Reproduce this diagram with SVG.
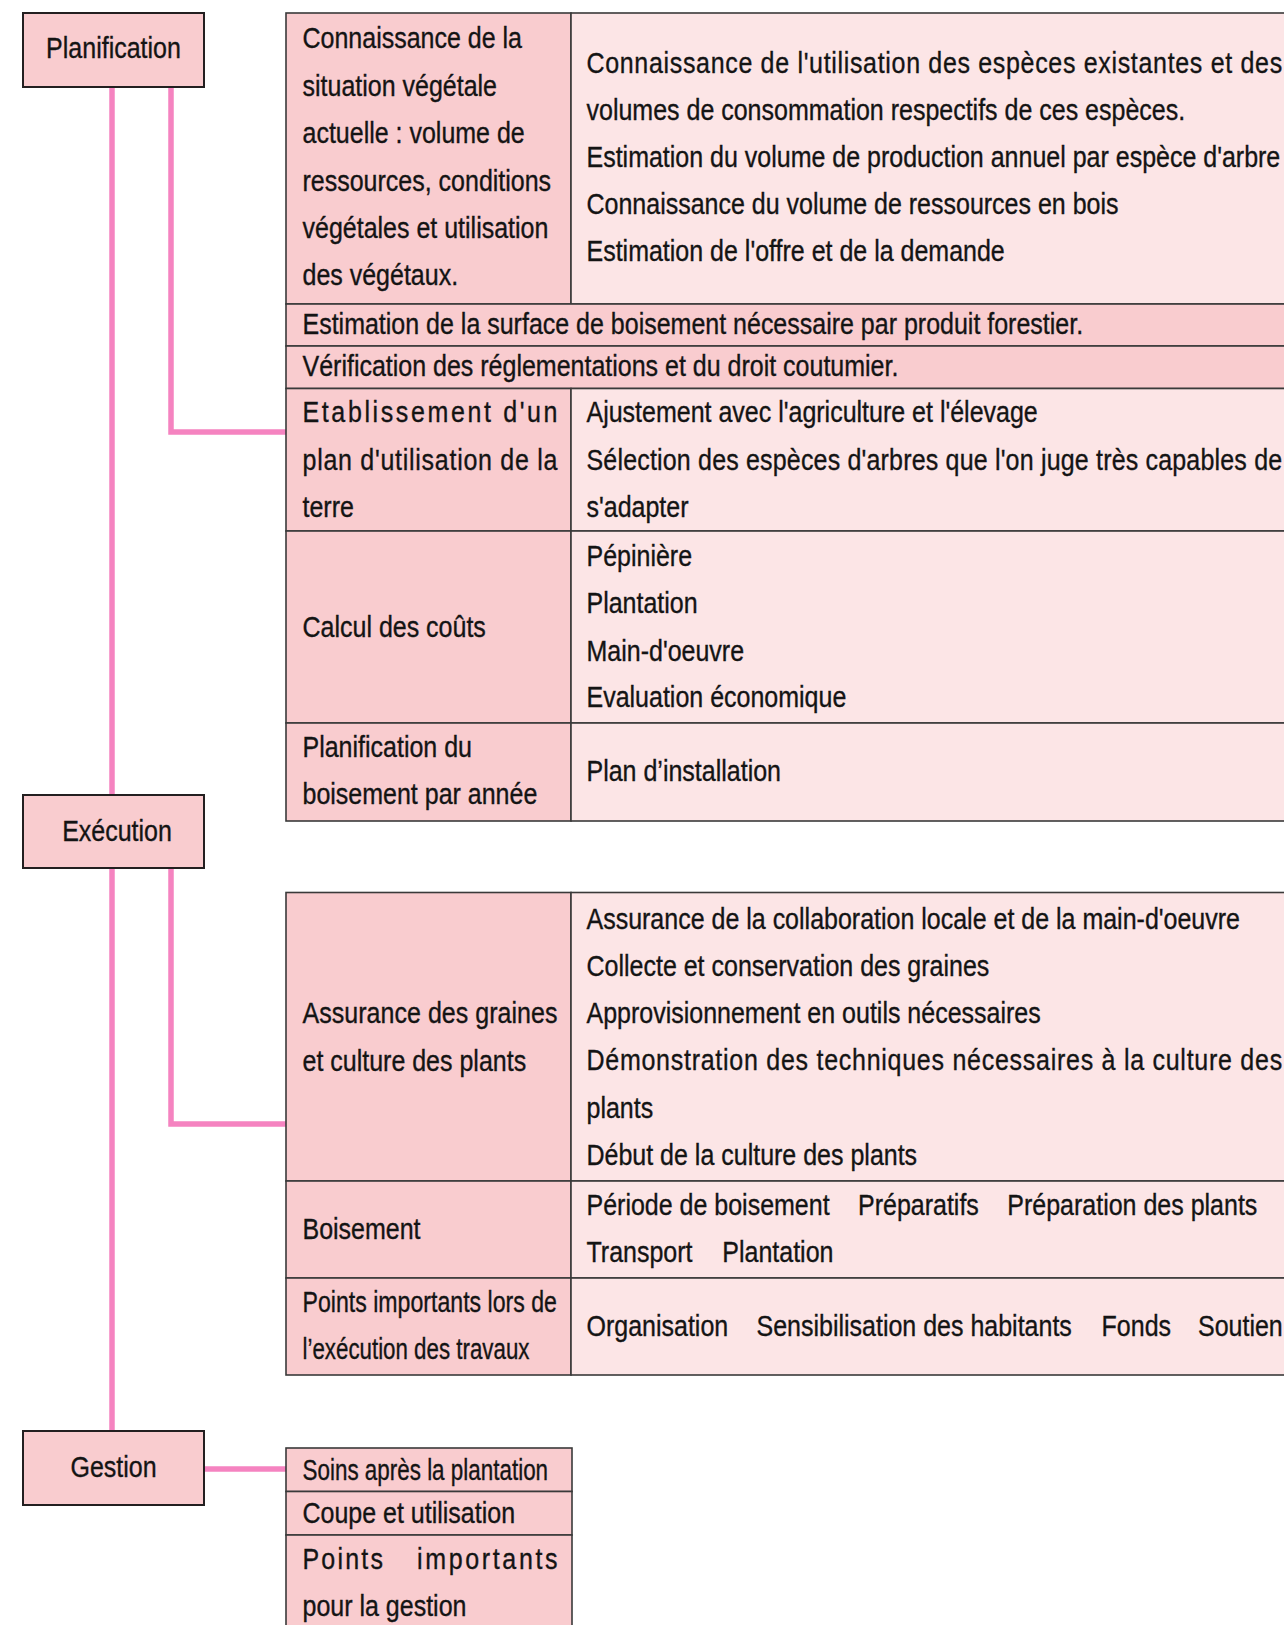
<svg xmlns="http://www.w3.org/2000/svg" width="1284" height="1625" viewBox="0 0 1284 1625">
<style>
.t{font-family:"Liberation Sans",Arial,sans-serif;font-size:29px;fill:#141414;stroke:#141414;stroke-width:0.35px}
.m{text-anchor:middle}
.box{fill:#F9CCCF;stroke:#231F20;stroke-width:2}
.dk{fill:#F9CCCF;stroke:#3a3a3a;stroke-width:1.6}
.lt{fill:#FCE5E6;stroke:#3a3a3a;stroke-width:1.6}
.con{fill:none;stroke:#F583C0;stroke-width:5.5}
</style>
<rect width="1284" height="1625" fill="#ffffff"/>
<g id="connectors">
<path class="con" d="M112,87 V795"/>
<path class="con" d="M112,868 V1431"/>
<path class="con" d="M171,87 V432 H286"/>
<path class="con" d="M171,868 V1124 H286"/>
<path class="con" d="M204,1469 H286"/>
</g>
<g id="planification">
<rect class="box" x="23" y="13" width="181" height="74"/>
<text class="t m" transform="translate(113.5,58.3) scale(0.862,1)">Planification</text>
</g>
<g id="execution">
<rect class="box" x="23" y="795" width="181" height="73"/>
<text class="t m" transform="translate(117,840.5) scale(0.862,1)">Exécution</text>
</g>
<g id="gestion">
<rect class="box" x="23" y="1431" width="181" height="74"/>
<text class="t m" transform="translate(113.5,1477) scale(0.862,1)">Gestion</text>
</g>
<g id="row-connaissance">
<rect class="dk" x="286" y="13" width="285" height="291"/>
<rect class="lt" x="571" y="13" width="740" height="291"/>
<text class="t" transform="translate(302.5,48.3) scale(0.862,1)">Connaissance de la</text>
<text class="t" transform="translate(302.5,95.7) scale(0.862,1)">situation végétale</text>
<text class="t" transform="translate(302.5,143.1) scale(0.862,1)">actuelle : volume de</text>
<text class="t" transform="translate(302.5,190.5) scale(0.862,1)">ressources, conditions</text>
<text class="t" transform="translate(302.5,237.9) scale(0.862,1)">végétales et utilisation</text>
<text class="t" transform="translate(302.5,285.3) scale(0.862,1)">des végétaux.</text>
<text class="t" transform="translate(586.5,72.5) scale(0.862,1)" textLength="807" lengthAdjust="spacing">Connaissance de l'utilisation des espèces existantes et des</text>
<text class="t" transform="translate(586.5,119.7) scale(0.862,1)">volumes de consommation respectifs de ces espèces.</text>
<text class="t" transform="translate(586.5,166.7) scale(0.862,1)">Estimation du volume de production annuel par espèce d'arbre</text>
<text class="t" transform="translate(586.5,213.8) scale(0.862,1)">Connaissance du volume de ressources en bois</text>
<text class="t" transform="translate(586.5,260.8) scale(0.862,1)">Estimation de l'offre et de la demande</text>
</g>
<g id="row-estimation">
<rect class="dk" x="286" y="304" width="1025" height="42"/>
<text class="t" transform="translate(302.5,334) scale(0.862,1)">Estimation de la surface de boisement nécessaire par produit forestier.</text>
</g>
<g id="row-verification">
<rect class="dk" x="286" y="346" width="1025" height="42.5"/>
<text class="t" transform="translate(302.5,375.7) scale(0.862,1)">Vérification des réglementations et du droit coutumier.</text>
</g>
<g id="row-etablissement">
<rect class="dk" x="286" y="388.5" width="285" height="142.5"/>
<rect class="lt" x="571" y="388.5" width="740" height="142.5"/>
<text class="t" transform="translate(302.5,422) scale(0.862,1)" textLength="295.8" lengthAdjust="spacing">Etablissement d'un</text>
<text class="t" transform="translate(302.5,469.5) scale(0.862,1)" textLength="295.8" lengthAdjust="spacing">plan d'utilisation de la</text>
<text class="t" transform="translate(302.5,516.5) scale(0.862,1)">terre</text>
<text class="t" transform="translate(586.5,422) scale(0.862,1)">Ajustement avec l'agriculture et l'élevage</text>
<text class="t" transform="translate(586.5,469.5) scale(0.862,1)" textLength="807" lengthAdjust="spacing">Sélection des espèces d'arbres que l'on juge très capables de</text>
<text class="t" transform="translate(586.5,516.5) scale(0.862,1)">s'adapter</text>
</g>
<g id="row-calcul">
<rect class="dk" x="286" y="531" width="285" height="192"/>
<rect class="lt" x="571" y="531" width="740" height="192"/>
<text class="t" transform="translate(302.5,637) scale(0.862,1)">Calcul des coûts</text>
<text class="t" transform="translate(586.5,565.5) scale(0.862,1)">Pépinière</text>
<text class="t" transform="translate(586.5,613) scale(0.862,1)">Plantation</text>
<text class="t" transform="translate(586.5,660.7) scale(0.862,1)">Main-d'oeuvre</text>
<text class="t" transform="translate(586.5,707) scale(0.862,1)">Evaluation économique</text>
</g>
<g id="row-planannee">
<rect class="dk" x="286" y="723" width="285" height="98"/>
<rect class="lt" x="571" y="723" width="740" height="98"/>
<text class="t" transform="translate(302.5,757.2) scale(0.862,1)">Planification du</text>
<text class="t" transform="translate(302.5,804) scale(0.862,1)">boisement par année</text>
<text class="t" transform="translate(586.5,781) scale(0.862,1)">Plan d’installation</text>
</g>
<g id="row-graines">
<rect class="dk" x="286" y="892.5" width="285" height="288.5"/>
<rect class="lt" x="571" y="892.5" width="740" height="288.5"/>
<text class="t" transform="translate(302.5,1023) scale(0.862,1)" textLength="295.8" lengthAdjust="spacing">Assurance des graines</text>
<text class="t" transform="translate(302.5,1070.5) scale(0.862,1)">et culture des plants</text>
<text class="t" transform="translate(586.5,928.6) scale(0.862,1)">Assurance de la collaboration locale et de la main-d'oeuvre</text>
<text class="t" transform="translate(586.5,975.8) scale(0.862,1)">Collecte et conservation des graines</text>
<text class="t" transform="translate(586.5,1023) scale(0.862,1)">Approvisionnement en outils nécessaires</text>
<text class="t" transform="translate(586.5,1070.4) scale(0.862,1)" textLength="807" lengthAdjust="spacing">Démonstration des techniques nécessaires à la culture des</text>
<text class="t" transform="translate(586.5,1117.7) scale(0.862,1)">plants</text>
<text class="t" transform="translate(586.5,1165) scale(0.862,1)">Début de la culture des plants</text>
</g>
<g id="row-boisement">
<rect class="dk" x="286" y="1181" width="285" height="97"/>
<rect class="lt" x="571" y="1181" width="740" height="97"/>
<text class="t" transform="translate(302.5,1238.5) scale(0.862,1)">Boisement</text>
<text class="t" transform="translate(586.5,1214.7) scale(0.862,1)">Période de boisement</text>
<text class="t" transform="translate(858,1214.7) scale(0.862,1)">Préparatifs</text>
<text class="t" transform="translate(1007.3,1214.7) scale(0.862,1)">Préparation des plants</text>
<text class="t" transform="translate(586.5,1262.4) scale(0.862,1)">Transport</text>
<text class="t" transform="translate(722.3,1262.4) scale(0.862,1)">Plantation</text>
</g>
<g id="row-points">
<rect class="dk" x="286" y="1278" width="285" height="97"/>
<rect class="lt" x="571" y="1278" width="740" height="97"/>
<text class="t" transform="translate(302.5,1312) scale(0.862,1)" textLength="295.2" lengthAdjust="spacingAndGlyphs">Points importants lors de</text>
<text class="t" transform="translate(302.5,1358.7) scale(0.862,1)" textLength="263.3" lengthAdjust="spacingAndGlyphs">l’exécution des travaux</text>
<text class="t" transform="translate(586.5,1336) scale(0.862,1)">Organisation</text>
<text class="t" transform="translate(756.5,1336) scale(0.862,1)">Sensibilisation des habitants</text>
<text class="t" transform="translate(1101.6,1336) scale(0.862,1)">Fonds</text>
<text class="t" transform="translate(1198,1336) scale(0.862,1)">Soutien</text>
</g>
<g id="gestion-soins">
<rect class="dk" x="286" y="1448" width="286" height="43.5"/>
<text class="t" transform="translate(302.5,1479.5) scale(0.862,1)" textLength="284.9" lengthAdjust="spacingAndGlyphs">Soins après la plantation</text>
</g>
<g id="gestion-coupe">
<rect class="dk" x="286" y="1491.5" width="286" height="43.5"/>
<text class="t" transform="translate(302.5,1523) scale(0.862,1)">Coupe et utilisation</text>
</g>
<g id="gestion-points">
<rect class="dk" x="286" y="1535" width="286" height="110"/>
<text class="t" transform="translate(302.5,1569) scale(0.862,1)" textLength="93.3" lengthAdjust="spacing">Points</text>
<text class="t" transform="translate(417,1569) scale(0.862,1)" textLength="163.1" lengthAdjust="spacing">importants</text>
<text class="t" transform="translate(302.5,1615.7) scale(0.862,1)">pour la gestion</text>
</g>
</svg>
